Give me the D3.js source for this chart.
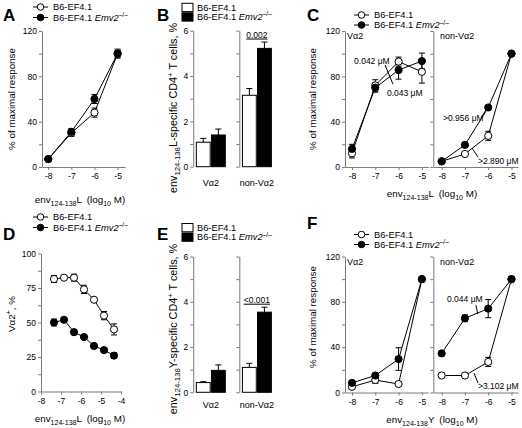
<!DOCTYPE html>
<html><head><meta charset="utf-8">
<script src="https://cdn.jsdelivr.net/npm/d3@7"></script>
<style>body{margin:0;background:#fff}svg{display:block}text{font-family:"Liberation Sans",Arial,sans-serif}</style>
</head><body><svg width="522" height="428"></svg>
<script>
// ---------------- data ----------------
const doses = [-8, -7, -6, -5];
const aOpen = [7, 30, 48, 100], aOpenErr = [1.5, 3, 4, 4];
const aFilled = [7, 31, 60, 100], aFilledErr = [1.5, 3, 4, 3];

const barCats = ["Vα2", "non-Vα2"];
const bOpen = [1.08, 3.15], bOpenErr = [0.17, 0.3];
const bFilled = [1.4, 5.22], bFilledErr = [0.26, 0.28];
const bP = "0.002";

const cVa2Open = [12, 72, 93, 84], cVa2OpenErr = [4, 5, 4, 10];
const cVa2Filled = [16, 70, 85.5, 93.5], cVa2FilledErr = [4, 4, 8, 7];
const cNonOpen = [5, 11.5, 27.5, 100], cNonOpenErr = [1, 1, 4, 1];
const cNonFilled = [5, 19.5, 52.5, 100], cNonFilledErr = [1, 2, 2, 1];

const dDoses = [-7.35, -6.85, -6.35, -5.85, -5.35, -4.85, -4.35];
const dOpen = [81.5, 82.5, 82.5, 74, 66.5, 55, 45], dOpenErr = [2.5, 1.5, 2.5, 3, 1.5, 3, 4];
const dFilled = [50, 52, 43, 39.5, 33, 30, 26], dFilledErr = [2.5, 1.5, 1.5, 1.5, 1.5, 1.5, 2];

const eOpen = [0.43, 1.1], eOpenErr = [0.04, 0.18];
const eFilled = [0.97, 3.54], eFilledErr = [0.24, 0.22];
const eP = "<0.001";

const fVa2Open = [5, 11, 7.5, 100], fVa2OpenErr = [2, 3, 2, 1];
const fVa2Filled = [8.5, 15, 29.5, 100], fVa2FilledErr = [2, 2, 10, 1];
const fNonOpen = [15, 15, 27, 100], fNonOpenErr = [2, 2, 4, 1];
const fNonFilled = [34.5, 65.5, 74, 100], fNonFilledErr = [2, 3, 8, 1];

const respTicks = [0, 40, 80, 120], respMinor = [20, 60, 100];
const pctTicks = [0, 2, 4, 6], pctMinor = [1, 3, 5];
const dYTicks = [0, 25, 50, 75, 100], dYMinor = [12.5, 37.5, 62.5, 87.5];
const doseTicks = [-8, -7, -6, -5], dDoseTicks = [-8, -7, -6, -5, -4];
const seriesNames = ["B6-EF4.1", "B6-EF4.1 "];

// annotations (data units)
const cAnnLeft = [{t: "0.042 μM", x: -7.91, v: 90.9}, {t: "0.043 μM", x: -6.5, v: 62.6}];
const cAnnLeftLeader = [[-6.58, 90], [-6.24, 73]];
const cAnnRight = [{t: ">0.956 μM", x: -7.94, v: 40.6}, {t: ">2.890 μM", x: -6.44, v: 2.6}];
const cAnnRightLeaders = [[[-6.31, 43.2], [-6.05, 52]], [[-6.44, 8.8], [-6.7, 16.8]]];
const fAnnRight = [{t: "0.044 μM", x: -7.77, v: 79.9}, {t: ">3.102 μM", x: -6.44, v: 3.1}];
const fAnnRightLeaders = [[[-6.53, 77.2], [-6.45, 69.3]], [[-6.44, 8.4], [-6.61, 17.2]]];

// ---------------- drawing ----------------
const svg = d3.select("svg");
const AX = "#7a7a7a";
const FONT = '"Liberation Sans", Arial, sans-serif';
const TICK = 8.5, TITLE = 9.8, LEG = 9.3;

function styleAxis(g) {
  g.attr("font-family", FONT).attr("font-size", TICK);
  g.select(".domain").attr("stroke", AX);
  g.selectAll(".tick line").attr("stroke", AX);
  g.selectAll(".tick text").attr("fill", "#000");
}
function yAxis(x0, y, major, minor, labels) {
  const g = svg.append("g").attr("transform", `translate(${x0},0)`)
    .call(d3.axisLeft(y).tickValues(major).tickSize(3).tickPadding(2).tickSizeOuter(0)
      .tickFormat(labels ? d => String(d) : ""));
  styleAxis(g);
  const m = svg.append("g").attr("transform", `translate(${x0},0)`)
    .call(d3.axisLeft(y).tickValues(minor).tickSize(3).tickFormat(""));
  m.select(".domain").remove();
  m.selectAll(".tick line").attr("stroke", AX);
}
function xAxis(y0, x, ticks) {
  const g = svg.append("g").attr("transform", `translate(0,${y0})`)
    .call(d3.axisBottom(x).tickValues(ticks).tickSize(3).tickPadding(3).tickSizeOuter(0)
      .tickFormat(d => String(d)));
  styleAxis(g);
}
function rich(t, parts, size) {
  let off = 0;
  parts.forEach(p => {
    const target = p.sub ? size * 0.3 : p.sup ? -size * 0.4 : 0;
    const s = t.append("tspan").attr("dy", target - off).text(p.t);
    off = target;
    if (p.sub || p.sup) s.attr("font-size", size * 0.72);
    if (p.it) s.attr("font-style", "italic");
  });
}
function text(x, y, str, size, anchor) {
  return svg.append("text").attr("x", x).attr("y", y).attr("font-size", size)
    .attr("text-anchor", anchor || "start").attr("fill", "#000").text(str);
}
function letter(x, y, s) {
  svg.append("text").attr("x", x).attr("y", y).attr("font-size", 17).attr("font-weight", "bold").text(s);
}
function xTitle(cx, y, letterSuffix) {
  const t = svg.append("text").attr("x", cx).attr("y", y).attr("font-size", TITLE).attr("text-anchor", "middle");
  rich(t, [{t: "env"}, {t: "124-138", sub: 1}, {t: letterSuffix + "\u2002(log"}, {t: "10", sub: 1}, {t: " M)"}], TITLE);
}
function yTitle(cx, cy, parts, size) {
  const fs = size || TITLE;
  const t = svg.append("text").attr("transform", `translate(${cx},${cy}) rotate(-90)`)
    .attr("font-size", fs).attr("text-anchor", "middle");
  rich(t, parts, fs);
}
function legendName(t, i) {
  if (i === 0) t.text(seriesNames[0]);
  else rich(t, [{t: seriesNames[1]}, {t: "Emv2", it: 1}, {t: "–/–", sup: 1}], LEG);
}
function lineLegend(x0, ys) {
  ys.forEach((yy, i) => {
    svg.append("line").attr("x1", x0).attr("x2", x0 + 15).attr("y1", yy).attr("y2", yy).attr("stroke", "#000");
    svg.append("circle").attr("cx", x0 + 7.5).attr("cy", yy).attr("r", 3.3)
      .attr("fill", i ? "#000" : "#fff").attr("stroke", "#000");
    const t = svg.append("text").attr("x", x0 + 20).attr("y", yy + 3.3).attr("font-size", LEG);
    legendName(t, i);
  });
}
function barLegend(x0, ys) {
  ys.forEach((yy, i) => {
    svg.append("rect").attr("x", x0).attr("y", yy - 4).attr("width", 11).attr("height", 8.3)
      .attr("fill", i ? "#000" : "#fff").attr("stroke", "#000");
    const t = svg.append("text").attr("x", x0 + 15).attr("y", yy + 3.3).attr("font-size", LEG);
    legendName(t, i);
  });
}
function curves(x, y, xs, list) {
  const g = svg.append("g");
  list.forEach(s => {
    const pts = xs.map((d, i) => ({x: d, v: s.vals[i]}));
    g.append("path").datum(pts).attr("d", d3.line().x(d => x(d.x)).y(d => y(d.v)))
      .attr("fill", "none").attr("stroke", "#000").attr("stroke-width", 1);
  });
  list.forEach(s => {
    const pts = xs.map((d, i) => ({x: d, v: s.vals[i], e: s.errs[i]}));
    const eg = g.append("g").attr("stroke", "#000").attr("stroke-width", 1);
    pts.forEach(p => {
      eg.append("line").attr("x1", x(p.x)).attr("x2", x(p.x)).attr("y1", y(p.v - p.e)).attr("y2", y(p.v + p.e));
      [p.v - p.e, p.v + p.e].forEach(v => eg.append("line").attr("x1", x(p.x) - 3).attr("x2", x(p.x) + 3).attr("y1", y(v)).attr("y2", y(v)));
    });
  });
  list.forEach(s => {
    g.append("g").selectAll("circle").data(xs.map((d, i) => ({x: d, v: s.vals[i]}))).join("circle")
      .attr("cx", d => x(d.x)).attr("cy", d => y(d.v)).attr("r", 3.6)
      .attr("fill", s.filled ? "#000" : "#fff").attr("stroke", "#000");
  });
}
function annotate(x, y, anns, leaders) {
  anns.forEach(a => text(x(a.x), y(a.v), a.t, TICK));
  leaders.forEach(l => svg.append("line").attr("x1", x(l[0][0])).attr("y1", y(l[0][1]))
    .attr("x2", x(l[1][0])).attr("y2", y(l[1][1])).attr("stroke", "#000"));
}
function bars(y, openV, openE, filledV, filledE, pval, labelY) {
  const xb = d3.scaleBand().domain(barCats).range([192.65, 275.05]).paddingInner(0.372).paddingOuter(0.08);
  const xs = d3.scaleBand().domain(["open", "filled"]).range([0, xb.bandwidth()]).paddingInner(0.08);
  barCats.forEach((c, i) => {
    yAxis(xb(c) - 3.1, y, pctTicks, pctMinor, i === 0);
    [["open", openV[i], openE[i]], ["filled", filledV[i], filledE[i]]].forEach(([k, v, e]) => {
      const bx = xb(c) + xs(k), cx = bx + xs.bandwidth() / 2;
      svg.append("line").attr("x1", cx).attr("x2", cx).attr("y1", y(v)).attr("y2", y(v + e)).attr("stroke", "#000");
      svg.append("line").attr("x1", cx - 3).attr("x2", cx + 3).attr("y1", y(v + e)).attr("y2", y(v + e)).attr("stroke", "#000");
      svg.append("rect").attr("x", bx).attr("y", y(v)).attr("width", xs.bandwidth()).attr("height", y(0) - y(v))
        .attr("fill", k === "filled" ? "#000" : "#fff").attr("stroke", "#000");
    });
    text(xb(c) + xb.bandwidth() / 2, labelY, c, TICK + 0.5, "middle");
  });
  const c = barCats[1], cx = xb(c) + xb.bandwidth() / 2;
  const ly = y(filledV[1] + filledE[1]) - 3;
  const t = text(cx, ly - 1.5, pval, TICK, "middle");
  const w = t.node().getComputedTextLength();
  svg.append("line").attr("x1", cx - w / 2).attr("x2", cx + w / 2).attr("y1", ly).attr("y2", ly).attr("stroke", "#000");
}

// ---- Panel A ----
letter(3, 20.5, "A");
lineLegend(33, [7, 17.5]);
{
  const x = d3.scaleLinear().domain([-8.27, -4.68]).range([42, 125]);
  const y = d3.scaleLinear().domain([0, 120]).range([167, 31]);
  yAxis(42, y, respTicks, respMinor, true);
  xAxis(167, x, doseTicks);
  curves(x, y, doses, [{vals: aOpen, errs: aOpenErr, filled: 0}, {vals: aFilled, errs: aFilledErr, filled: 1}]);
  xTitle(80, 203, "L");
  yTitle(15, 99, [{t: "% of maximal response"}]);
}
// ---- Panel B ----
letter(157, 20.5, "B");
barLegend(182, [7.3, 16.8]);
{
  const y = d3.scaleLinear().domain([0, 6]).range([166.7, 30.7]);
  bars(y, bOpen, bOpenErr, bFilled, bFilledErr, bP, 186);
  yTitle(177, 108, [{t: "env"}, {t: "124-138", sub: 1}, {t: "L-specific CD4"}, {t: "+", sup: 1}, {t: " T cells, %"}], 10.8);
}
// ---- Panel C ----
letter(307, 20.5, "C");
lineLegend(354, [15, 25]);
{
  const y = d3.scaleLinear().domain([0, 120]).range([167, 31]);
  const xl = d3.scaleLinear().domain([-8.3, -4.72]).range([345, 428.4]);
  const xr = d3.scaleLinear().domain([-8.36, -4.72]).range([433.3, 518]);
  yAxis(345, y, respTicks, respMinor, true);
  yAxis(433.3, y, respTicks, respMinor, false);
  xAxis(167, xl, doseTicks);
  xAxis(167, xr, doseTicks);
  curves(xl, y, doses, [{vals: cVa2Open, errs: cVa2OpenErr, filled: 0}, {vals: cVa2Filled, errs: cVa2FilledErr, filled: 1}]);
  curves(xr, y, doses, [{vals: cNonOpen, errs: cNonOpenErr, filled: 0}, {vals: cNonFilled, errs: cNonFilledErr, filled: 1}]);
  annotate(xl, y, cAnnLeft, [cAnnLeftLeader]);
  annotate(xr, y, cAnnRight, cAnnRightLeaders);
  text(347, 39, "Vα2", TICK + 0.5);
  text(440, 39, "non-Vα2", TICK + 0.5);
  xTitle(432, 197, "L");
  yTitle(316, 99, [{t: "% of maximal response"}]);
}
// ---- Panel D ----
letter(3, 240, "D");
lineLegend(33, [217, 227.5]);
{
  const x = d3.scaleLinear().domain([-8, -4]).range([41, 121]);
  const y = d3.scaleLinear().domain([0, 100]).range([391.5, 253.5]);
  yAxis(41, y, dYTicks, dYMinor, true);
  xAxis(391.5, x, dDoseTicks);
  curves(x, y, dDoses, [{vals: dOpen, errs: dOpenErr, filled: 0}, {vals: dFilled, errs: dFilledErr, filled: 1}]);
  xTitle(80, 422, "L");
  yTitle(15, 314, [{t: "Vα2"}, {t: "+", sup: 1}, {t: ", %"}]);
}
// ---- Panel E ----
letter(157, 240, "E");
barLegend(182, [227.5, 237]);
{
  const y = d3.scaleLinear().domain([0, 6]).range([392.3, 256.5]);
  bars(y, eOpen, eOpenErr, eFilled, eFilledErr, eP, 408);
  yTitle(177, 329, [{t: "env"}, {t: "124-138", sub: 1}, {t: "Y-specific CD4"}, {t: "+", sup: 1}, {t: " T cells, %"}], 10.8);
}
// ---- Panel F ----
letter(307, 229, "F");
lineLegend(354, [234.5, 244.5]);
{
  const y = d3.scaleLinear().domain([0, 120]).range([392.5, 256.5]);
  const xl = d3.scaleLinear().domain([-8.3, -4.72]).range([345, 428.4]);
  const xr = d3.scaleLinear().domain([-8.36, -4.72]).range([433.3, 518]);
  yAxis(345, y, respTicks, respMinor, true);
  yAxis(433.3, y, respTicks, respMinor, false);
  xAxis(392.5, xl, doseTicks);
  xAxis(392.5, xr, doseTicks);
  curves(xl, y, doses, [{vals: fVa2Open, errs: fVa2OpenErr, filled: 0}, {vals: fVa2Filled, errs: fVa2FilledErr, filled: 1}]);
  curves(xr, y, doses, [{vals: fNonOpen, errs: fNonOpenErr, filled: 0}, {vals: fNonFilled, errs: fNonFilledErr, filled: 1}]);
  annotate(xr, y, fAnnRight, fAnnRightLeaders);
  text(347, 265, "Vα2", TICK + 0.5);
  text(440, 265, "non-Vα2", TICK + 0.5);
  xTitle(432, 423, "Y");
  yTitle(316, 317, [{t: "% of maximal response"}]);
}
</script></body></html>
